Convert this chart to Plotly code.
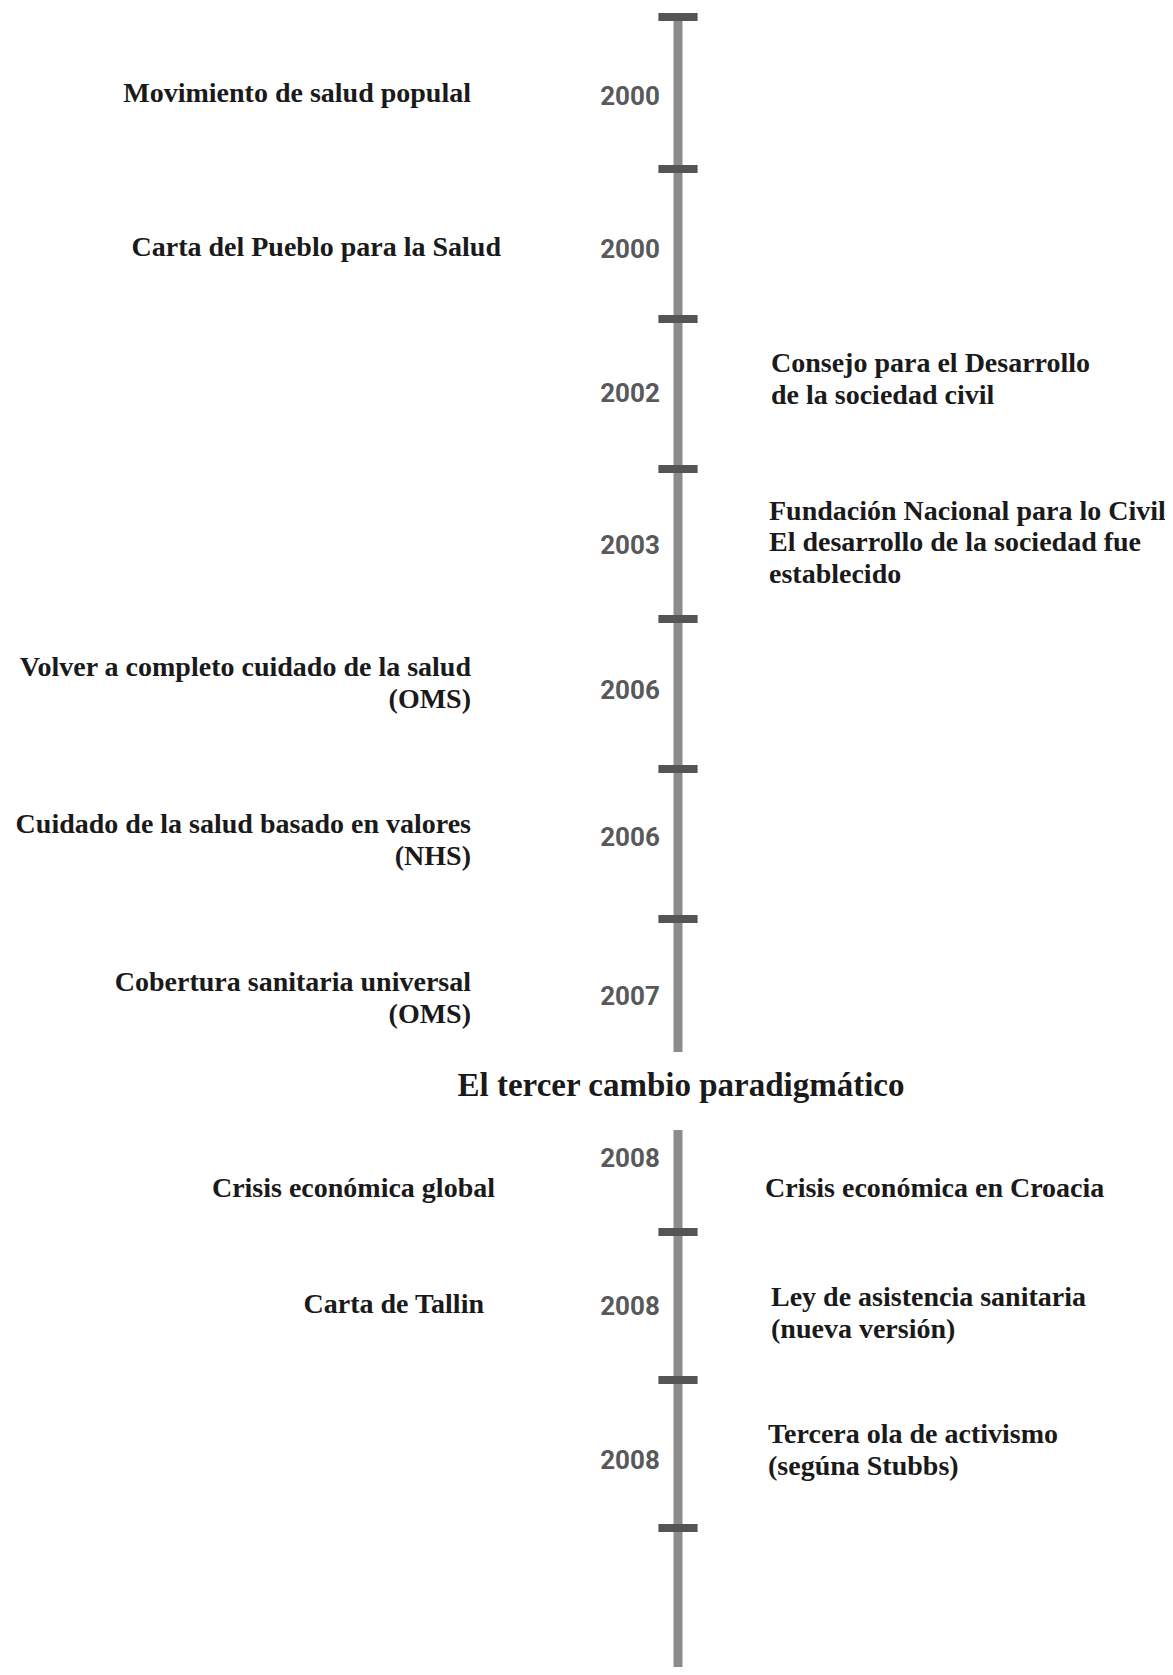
import plotly.graph_objects as go

# ---------------- data ----------------
years = ["2000", "2000", "2002", "2003", "2006", "2006", "2007", "2008", "2008", "2008"]
left_labels = [
    "Movimiento de salud populal",
    "Carta del Pueblo para la Salud",
    "",
    "",
    "Volver a completo cuidado de la salud<br>(OMS)",
    "Cuidado de la salud basado en valores<br>(NHS)",
    "Cobertura sanitaria universal<br>(OMS)",
    "Crisis económica global",
    "Carta de Tallin",
    "",
]
right_labels = [
    "",
    "",
    "Consejo para el Desarrollo<br>de la sociedad civil",
    "Fundación Nacional para lo Civil<br>El desarrollo de la sociedad fue<br>establecido",
    "",
    "",
    "",
    "Crisis económica en Croacia",
    "Ley de asistencia sanitaria<br>(nueva versión)",
    "Tercera ola de activismo<br>(segúna Stubbs)",
]
segment = [1, 1, 1, 1, 1, 1, 1, 2, 2, 2]
divider_title = "El tercer cambio paradigmático"

# ---------------- layout constants (page pixel space) ----------------
W, H = 1173, 1675
PAGE_MARGIN = 8          # default body margin of the html page
AXIS_X = 678
YEAR_X = 630
YEAR_DY = [4, 7, 1, 3, -2, -5, 4, 2, 2, 8]
LEFT_EDGE = [471, 501, 471, 471, 471, 471, 471, 495, 484, 471]
RIGHT_START = [770, 770, 771, 769, 770, 770, 770, 765, 771, 768]
LEFT_DY = [1, 5, 0, 0, -9, -2, 6, 32, 0, 0]
RIGHT_DY = [0, 0, -13, 0, 0, 0, 0, 32, 9, -2]
LINE_GAP = 31.5
LABEL_SIZE = 28

seg_start = {1: 94, 2: 1158}
seg_step = {1: 150, 2: 148}

rows_y = []
idx_in_seg = {1: 0, 2: 0}
for s in segment:
    rows_y.append(seg_start[s] + idx_in_seg[s] * seg_step[s])
    idx_in_seg[s] += 1

fig = go.Figure()

# vertical line segments
seg1_top = 17
seg1_bottom = 1052
seg2_top = 1130
seg2_bottom = H + 10
fig.add_trace(go.Scatter(
    x=[AXIS_X, AXIS_X, None, AXIS_X, AXIS_X],
    y=[seg1_top, seg1_bottom, None, seg2_top, seg2_bottom],
    mode="lines", line=dict(color="#8c8c8c", width=9),
    hoverinfo="skip", showlegend=False, cliponaxis=False))

# tick caps
cap_y = [seg1_top]
for i, s in enumerate(segment):
    if s == 1:
        cap_y.append(rows_y[i] + seg_step[1] / 2)
cap_y = cap_y[:-1]
for i, s in enumerate(segment):
    if s == 2:
        cap_y.append(rows_y[i] + seg_step[2] / 2)
fig.add_trace(go.Scatter(
    x=[AXIS_X] * len(cap_y), y=cap_y, mode="markers",
    marker=dict(symbol="line-ew", size=28, line=dict(color="#555555", width=8)),
    hoverinfo="skip", showlegend=False, cliponaxis=False))

# years
fig.add_trace(go.Scatter(
    x=[YEAR_X] * len(years), y=[r + d for r, d in zip(rows_y, YEAR_DY)],
    mode="text", text=years, textposition="middle center",
    textfont=dict(family="Roboto", size=26, color="#58595b", weight="bold"),
    hoverinfo="skip", showlegend=False, cliponaxis=False))


def split_lines(labels, xs, dys):
    px, py, pt = [], [], []
    for i, t in enumerate(labels):
        if not t:
            continue
        parts = t.split("<br>")
        n = len(parts)
        for j, p in enumerate(parts):
            px.append(xs[i])
            py.append(rows_y[i] + dys[i] + (j - (n - 1) / 2) * LINE_GAP)
            pt.append(p)
    return px, py, pt


lx, ly, lt = split_lines(left_labels, LEFT_EDGE, LEFT_DY)
fig.add_trace(go.Scatter(
    x=lx, y=ly, mode="text", text=lt, textposition="middle left",
    textfont=dict(family="Liberation Serif", size=LABEL_SIZE, color="#1a1a1a", weight="bold"),
    hoverinfo="skip", showlegend=False, cliponaxis=False))

rx, ry, rt = split_lines(right_labels, RIGHT_START, RIGHT_DY)
fig.add_trace(go.Scatter(
    x=rx, y=ry, mode="text", text=rt, textposition="middle right",
    textfont=dict(family="Liberation Serif", size=LABEL_SIZE, color="#1a1a1a", weight="bold"),
    hoverinfo="skip", showlegend=False, cliponaxis=False))

# divider title
fig.add_trace(go.Scatter(
    x=[681], y=[1088], mode="text", text=[divider_title],
    textposition="middle center",
    textfont=dict(family="Liberation Serif", size=33, color="#1a1a1a", weight="bold"),
    hoverinfo="skip", showlegend=False, cliponaxis=False))

fig.update_xaxes(range=[PAGE_MARGIN, W - PAGE_MARGIN], visible=False, fixedrange=True)
fig.update_yaxes(range=[H - PAGE_MARGIN, PAGE_MARGIN], visible=False, fixedrange=True)
fig.update_layout(
    width=W - 2 * PAGE_MARGIN, height=H - 2 * PAGE_MARGIN,
    margin=dict(l=0, r=0, t=0, b=0),
    plot_bgcolor="white", paper_bgcolor="white", showlegend=False)

fig.write_html("out.html")
